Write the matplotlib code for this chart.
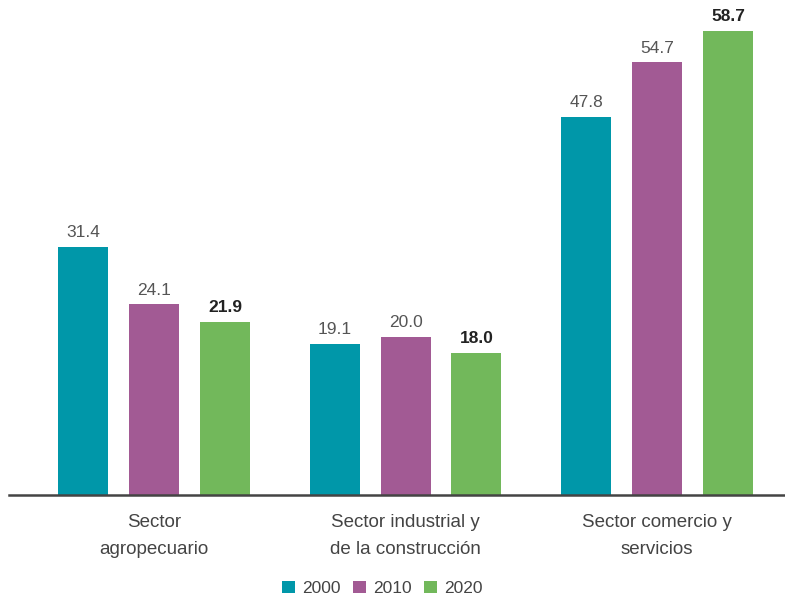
import matplotlib
matplotlib.use("Agg")
import matplotlib.pyplot as plt
from matplotlib.patches import Patch
import numpy as np

plt.rcParams['font.family'] = ['Liberation Sans', 'DejaVu Sans']

categories = ["Sector\nagropecuario", "Sector industrial y\nde la construcción", "Sector comercio y\nservicios"]
years = ["2000", "2010", "2020"]
v2000 = [31.4, 19.1, 47.8]
v2010 = [24.1, 20.0, 54.7]
v2020 = [21.9, 18.0, 58.7]
colors = ["#0097A9", "#A25A94", "#72B85B"]

fig = plt.figure(figsize=(7.85, 5.99), dpi=100)
ax = fig.add_axes([0.0115, 0.1736, 0.9885, 0.8264])

x = np.arange(len(categories))
w = 0.199
off = 0.282
series = [v2000, v2010, v2020]
for i, (vals, c) in enumerate(zip(series, colors)):
    pos = x + (i - 1) * off
    ax.bar(pos, vals, width=w, color=c, zorder=2)
    for p, v in zip(pos, vals):
        if i == 2:
            ax.text(p, v + 0.85, f"{v:.1f}", ha="center", va="bottom", fontsize=12.5,
                    fontweight="bold", color="#222222")
        else:
            ax.text(p, v + 0.85, f"{v:.1f}", ha="center", va="bottom", fontsize=12.5,
                    color="#555555")

ax.set_xlim(-0.577, 2.509)
ax.set_ylim(0, 62.6)
for s in ["top", "right", "left"]:
    ax.spines[s].set_visible(False)
ax.spines["bottom"].set_color("#444444")
ax.spines["bottom"].set_linewidth(1.8)
ax.set_yticks([])
ax.set_xticks(x)
ax.set_xticklabels(categories, fontsize=13.5, color="#444444", linespacing=1.72)
ax.tick_params(axis="x", length=0, pad=14)

handles = [Patch(facecolor=c, edgecolor="none") for c in colors]
fig.legend(handles, years, loc="center", bbox_to_anchor=(0.487, 0.018), ncol=3,
           frameon=False, fontsize=12.5, handlelength=0.75, handleheight=0.75,
           handletextpad=0.4, columnspacing=0.7, labelcolor="#444444")

fig.savefig("out.png", dpi=100, facecolor="white")
